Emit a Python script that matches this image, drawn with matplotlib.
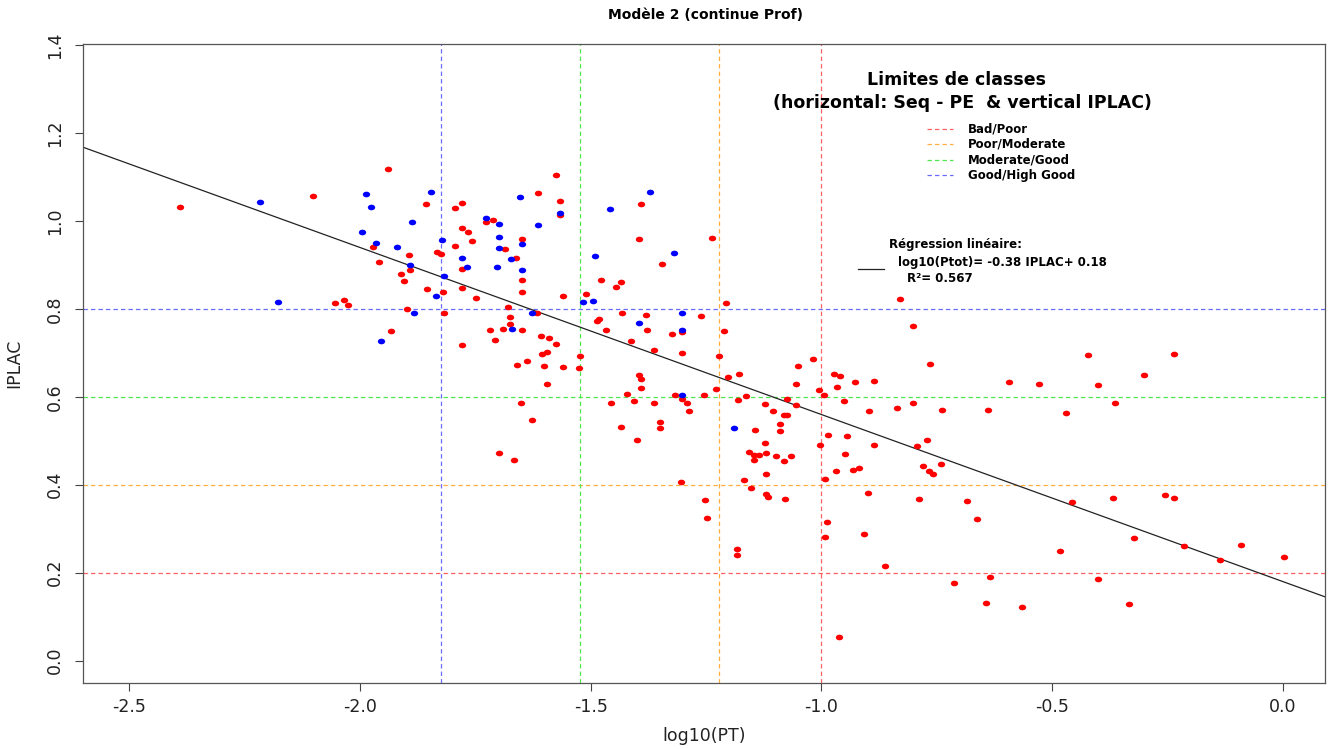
import numpy as np
import matplotlib
matplotlib.use("Agg")
import matplotlib.pyplot as plt
from matplotlib.path import Path
from matplotlib.transforms import Affine2D

plt.rcParams["font.family"] = ["DejaVu Sans"]
plt.rcParams["axes.unicode_minus"] = False

# stations in red (IPLAC vs log10(PT))
red_x = [-2.390, -2.102, -1.939, -1.856, -1.793, -1.778, -1.971, -1.959, -1.894, -1.892,
         -1.911, -1.904, -1.834, -1.825, -1.793, -1.778, -1.766, -1.757, -1.778, -1.778,
         -1.748, -1.854, -1.820, -2.054, -2.035, -2.026, -1.899, -1.818, -1.933, -1.778,
         -1.727, -1.711, -1.685, -1.661, -1.614, -1.574, -1.566, -1.566, -1.649, -1.649,
         -1.649, -1.678, -1.617, -1.675, -1.675, -1.689, -1.718, -1.707, -1.649, -1.607,
         -1.590, -1.576, -1.605, -1.595, -1.660, -1.638, -1.600, -1.560, -1.523, -1.526,
         -1.560, -1.509, -1.478, -1.445, -1.434, -1.390, -1.396, -1.346, -1.236, -1.432,
         -1.482, -1.487, -1.466, -1.380, -1.377, -1.302, -1.323, -1.260, -1.413, -1.363,
         -1.302, -1.221, -1.395, -1.391,
         -1.594, -1.651, -1.626, -1.699, -1.667, -1.391, -1.421, -1.456, -1.406, -1.363,
         -1.316, -1.302, -1.291, -1.286, -1.255, -1.228, -1.349, -1.349, -1.435, -1.399,
         -1.304,
         -1.252, -1.247, -1.183, -1.183, -1.168, -1.153, -1.119, -1.119, -1.116, -1.079,
         -0.991, -0.967, -0.931, -0.918, -0.899, -0.987, -0.992, -0.908, -0.861, -0.962,
         -0.788, -0.779, -0.766, -0.757, -0.741, -0.685, -0.662, -0.712, -0.635, -0.643,
         -1.207, -1.211, -1.203, -1.178, -1.181, -1.164, -1.143, -1.122, -1.104, -1.075,
         -1.055, -1.080, -1.075, -1.089, -1.090, -1.055, -1.050, -1.018, -1.005, -0.994,
         -0.950, -0.972, -0.959, -0.966, -0.927, -0.886, -0.896, -0.985, -0.944, -1.002,
         -0.949, -0.886, -1.122, -1.156, -1.146, -1.135, -1.145, -1.119, -1.099, -1.066,
         -1.080, -0.835, -0.802, -0.739, -0.639, -0.594, -0.765, -0.802, -0.830, -0.792,
         -0.771,
         -0.529, -0.421, -0.400, -0.470, -0.364, -0.300, -0.236, -0.457, -0.367, -0.254,
         -0.235, -0.323, -0.483, -0.213, -0.136, -0.091, 0.004, -0.399, -0.564, -0.333]
red_y = [1.032, 1.056, 1.118, 1.040, 1.029, 1.041, 0.940, 0.906, 0.924, 0.889,
         0.880, 0.864, 0.929, 0.925, 0.943, 0.984, 0.975, 0.955, 0.892, 0.848,
         0.824, 0.846, 0.839, 0.814, 0.821, 0.808, 0.800, 0.791, 0.751, 0.717,
         0.997, 1.003, 0.937, 0.915, 1.065, 1.104, 1.046, 1.014, 0.959, 0.867,
         0.839, 0.805, 0.791, 0.781, 0.766, 0.755, 0.752, 0.730, 0.752, 0.738,
         0.735, 0.721, 0.698, 0.702, 0.673, 0.682, 0.670, 0.668, 0.694, 0.666,
         0.830, 0.833, 0.867, 0.849, 0.861, 1.040, 0.959, 0.902, 0.962, 0.791,
         0.778, 0.772, 0.752, 0.787, 0.752, 0.748, 0.742, 0.783, 0.727, 0.706,
         0.700, 0.694, 0.650, 0.641,
         0.630, 0.585, 0.548, 0.473, 0.456, 0.620, 0.607, 0.585, 0.591, 0.586,
         0.604, 0.595, 0.586, 0.567, 0.605, 0.618, 0.543, 0.529, 0.532, 0.503,
         0.406,
         0.365, 0.324, 0.253, 0.241, 0.411, 0.392, 0.424, 0.379, 0.373, 0.368,
         0.413, 0.431, 0.434, 0.439, 0.382, 0.315, 0.281, 0.289, 0.216, 0.054,
         0.367, 0.443, 0.431, 0.424, 0.448, 0.362, 0.322, 0.176, 0.191, 0.131,
         0.814, 0.751, 0.645, 0.651, 0.593, 0.603, 0.524, 0.583, 0.568, 0.595,
         0.582, 0.559, 0.558, 0.538, 0.522, 0.629, 0.671, 0.686, 0.616, 0.604,
         0.591, 0.651, 0.647, 0.623, 0.635, 0.637, 0.568, 0.513, 0.511, 0.491,
         0.471, 0.491, 0.494, 0.474, 0.468, 0.467, 0.456, 0.472, 0.465, 0.466,
         0.454, 0.575, 0.587, 0.571, 0.570, 0.635, 0.674, 0.761, 0.823, 0.488,
         0.503,
         0.630, 0.696, 0.628, 0.564, 0.587, 0.649, 0.698, 0.360, 0.371, 0.376,
         0.370, 0.280, 0.250, 0.261, 0.228, 0.264, 0.236, 0.186, 0.122, 0.129]

# stations in blue
blue_x = [-2.216, -1.987, -1.977, -1.846, -1.888, -1.995, -1.966, -1.920, -1.891, -1.823,
          -1.818, -1.778, -1.768, -1.836, -2.177, -1.883, -1.954,
          -1.727, -1.698, -1.698, -1.698, -1.703, -1.673, -1.652, -1.566, -1.613, -1.649,
          -1.649, -1.626, -1.671, -1.517, -1.495, -1.491, -1.458, -1.372, -1.319, -1.396,
          -1.302, -1.302, -1.302, -1.190]
blue_y = [1.043, 1.061, 1.033, 1.066, 0.997, 0.975, 0.950, 0.942, 0.901, 0.957,
          0.874, 0.916, 0.896, 0.830, 0.816, 0.792, 0.727,
          1.007, 0.994, 0.964, 0.939, 0.896, 0.913, 1.054, 1.018, 0.990, 0.949,
          0.888, 0.790, 0.754, 0.815, 0.818, 0.921, 1.028, 1.066, 0.927, 0.768,
          0.792, 0.753, 0.604, 0.529]

# class limits
class_names = ["Bad/Poor", "Poor/Moderate", "Moderate/Good", "Good/High Good"]
class_colors = ["#ff6060", "#ffae40", "#50e650", "#6a6aff"]
limits_iplac = [0.2, 0.4, 0.6, 0.8]
limits_pt = [0.1, 0.06, 0.03, 0.015]

reg_intercept = 0.18
reg_slope = -0.38

fig = plt.figure(figsize=(13.35, 7.49), dpi=100)
W, H = 1335, 749
left, right, top, bottom = 82.7, 1325, 44.3, 683.3
ax = fig.add_axes([left / W, 1 - bottom / H, (right - left) / W, (bottom - top) / H])

dash = (0, (3.5, 2.5))
for c, v in zip(class_colors, limits_iplac):
    ax.axhline(v, color=c, lw=0.9, ls=dash, zorder=1)
for c, v in zip(class_colors, limits_pt):
    ax.axvline(np.log10(v), color=c, lw=0.9, ls=dash, zorder=1)

ax.axline((0, reg_intercept), slope=reg_slope, color="#222222", lw=0.9, zorder=2)

ell = Path.unit_circle().transformed(Affine2D().scale(1.3, 1.0))
ax.scatter(red_x, red_y, s=28, marker=ell, color="#ff0000", linewidths=0, zorder=3)
ax.scatter(blue_x, blue_y, s=28, marker=ell, color="#0000ff", linewidths=0, zorder=4)

ax.set_xlim(-2.601, 0.092)
ax.set_ylim(-0.0517, 1.4023)
ax.set_xticks(np.arange(-2.5, 0.01, 0.5))
ax.set_xticklabels(["-2.5", "-2.0", "-1.5", "-1.0", "-0.5", "0.0"])
ax.set_yticks(np.arange(0, 1.41, 0.2))
ax.set_yticklabels(["%.1f" % v for v in np.arange(0, 1.41, 0.2)],
                   rotation=90, va="center")
ax.tick_params(direction="out", length=5.5, width=0.8, color="#444444",
               labelsize=12.5, labelcolor="#222222")
ax.tick_params(axis="x", pad=5)
ax.tick_params(axis="y", pad=8)
for s in ax.spines.values():
    s.set_color("#555555")
    s.set_linewidth(0.9)

ax.set_xlabel("log10(PT)", fontsize=12.5, color="#222222")
ax.set_ylabel("IPLAC", fontsize=12.5, color="#222222")
ax.xaxis.set_label_coords(0.5, -0.068)
ax.yaxis.set_label_coords(-0.048, 0.5)

fig.text(705 / W, 1 - 15 / H, "Modèle 2 (continue Prof)", ha="center", va="center",
         fontsize=10, fontweight="bold")

# legend block
ax.text(-0.707, 1.321, "Limites de classes", ha="center", va="center",
        fontsize=12.5, fontweight="bold")
ax.text(-0.693, 1.268, "(horizontal: Seq - PE  & vertical IPLAC)", ha="center",
        va="center", fontsize=12.5, fontweight="bold")
rows_y = [1.2095, 1.175, 1.140, 1.104]
for name, c, yy in zip(class_names, class_colors, rows_y):
    ax.plot([-0.771, -0.714], [yy, yy], color=c, lw=0.9, ls=dash)
    ax.text(-0.682, yy, name, ha="left", va="center", fontsize=8.5, fontweight="bold")

ax.text(-0.853, 0.947, "Régression linéaire:", ha="left", va="center",
        fontsize=8.5, fontweight="bold")
ax.plot([-0.920, -0.864], [0.890, 0.890], color="#222222", lw=0.9)
ax.text(-0.834, 0.906, "log10(Ptot)= %.2f IPLAC+ %.2f" % (reg_slope, reg_intercept),
        ha="left", va="center", fontsize=8.5, fontweight="bold")
ax.text(-0.814, 0.870, "R²= 0.567", ha="left", va="center",
        fontsize=8.5, fontweight="bold")

fig.savefig("out.png", dpi=100)
